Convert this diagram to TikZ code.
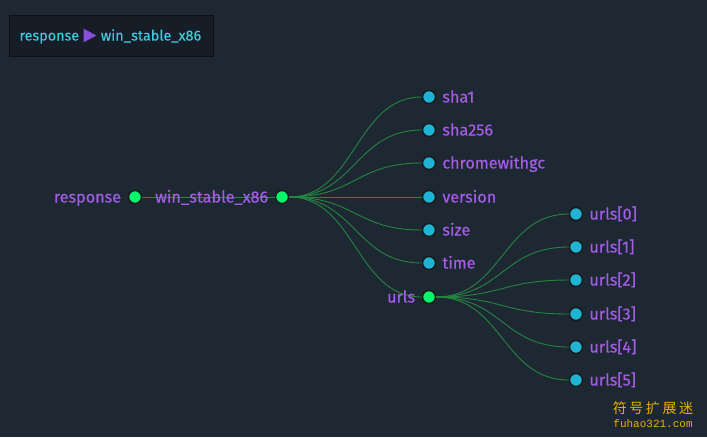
\documentclass[tikz,border=0pt]{standalone}
\usepackage{fontspec}
\usetikzlibrary{calc}
\setmainfont{Fira Sans}
\newfontfamily\labfont{Fira Sans}[FakeBold=0.4]
\newfontfamily\cjk{Noto Sans CJK SC}[LetterSpace=18]
\newfontfamily\wmmono{Liberation Mono}
\definecolor{bg}{HTML}{1E2833}
\definecolor{boxbg}{HTML}{161D26}
\definecolor{boxline}{HTML}{0C1014}
\definecolor{cyantext}{HTML}{3CCBDA}
\definecolor{tri}{HTML}{8A4FDC}
\definecolor{lbl}{HTML}{A35CE6}
\definecolor{edge}{HTML}{258540}
\definecolor{leaf}{HTML}{1FB4D3}
\definecolor{inner}{HTML}{05F56C}
\definecolor{wm}{HTML}{E8B000}
\begin{document}
\begin{tikzpicture}[x=1pt,y=-1pt,
  dot/.style={circle,draw=black!90,line width=1.4pt,minimum size=13pt,inner sep=0pt},
  leafdot/.style={dot,fill=leaf},
  innerdot/.style={dot,fill=inner},
  lab/.style={text=lbl,font=\labfont\fontsize{16.2}{19}\selectfont,inner sep=0pt},
  link/.style={draw=edge,line width=0.9pt}]
\fill[bg] (0,0) rectangle (707,437);
\useasboundingbox (0,0) rectangle (707,437);
% breadcrumb
\node[draw=boxline,fill=boxbg,line width=0.8pt,minimum width=204pt,minimum height=41pt,anchor=north west,inner sep=0pt] (crumb) at (8.5,14.5) {};
\node[text=cyantext,font=\labfont\fontsize{14.4}{17}\selectfont,inner sep=0pt,anchor=base west] (crumbtxt) at (19.3,40.5) {response\hspace{4.5pt}{\color{tri}\raisebox{-1.8pt}{\tikz[x=1pt,y=1pt]\fill (0,0)--(12.7,6.8)--(0,13.6)--cycle;}}\hspace{4.5pt}win\_stable\_x86};
% nodes
\node[innerdot] (resp) at (135,197) {};
\node[innerdot] (win) at (282,197) {};
\foreach \nm/\y in {sha1/97,sha256/130,chrome/163,version/197,size/230,time/263}
  \node[leafdot] (\nm) at (429,\y) {};
\node[innerdot] (urls) at (429,297) {};
\foreach \i/\y in {0/214,1/247,2/280,3/314,4/347,5/380}
  \node[leafdot] (u\i) at (576,\y) {};
% links
\draw[link] (resp.east) -- (win.west);
\foreach \nm in {sha1,sha256,chrome,version,size,time,urls}
  \draw[link] let \p1=(win.east), \p2=(\nm.west) in (\p1) .. controls ({(\x1+\x2)/2},\y1) and ({(\x1+\x2)/2},\y2) .. (\p2);
\foreach \i in {0,...,5}
  \draw[link] let \p1=(urls.east), \p2=(u\i.west) in (\p1) .. controls ({(\x1+\x2)/2},\y1) and ({(\x1+\x2)/2},\y2) .. (\p2);
% labels
\node[lab,anchor=base east] (respl) at ([xshift=-6.5pt,yshift=-5.5pt]resp.west) {response};
\node[lab,anchor=base east] (winl) at ([xshift=-6.5pt,yshift=-5.5pt]win.west) {win\_stable\_x86};
\node[lab,anchor=base east] (urlsl) at ([xshift=-6.5pt,yshift=-5.5pt]urls.west) {urls};
\foreach \nm/\t in {sha1/sha1,sha256/sha256,chrome/chromewithgc,version/version,size/size,time/time}
  \node[lab,anchor=base west] (\nm l) at ([xshift=6pt,yshift=-5.5pt]\nm.east) {\t};
\foreach \i in {0,...,5}
  \node[lab,anchor=base west] (u\i l) at ([xshift=6pt,yshift=-5.5pt]u\i.east) {urls[\i]};
% watermark
\node[text=wm,font=\cjk\fontsize{14}{16}\selectfont,inner sep=0pt] (wm1) at (653,408) {符号扩展迷};
\node[text=wm,font=\wmmono\fontsize{11}{13}\selectfont,inner sep=0pt] (wm2) at (653,424) {fuhao321.com};
\end{tikzpicture}
\end{document}
